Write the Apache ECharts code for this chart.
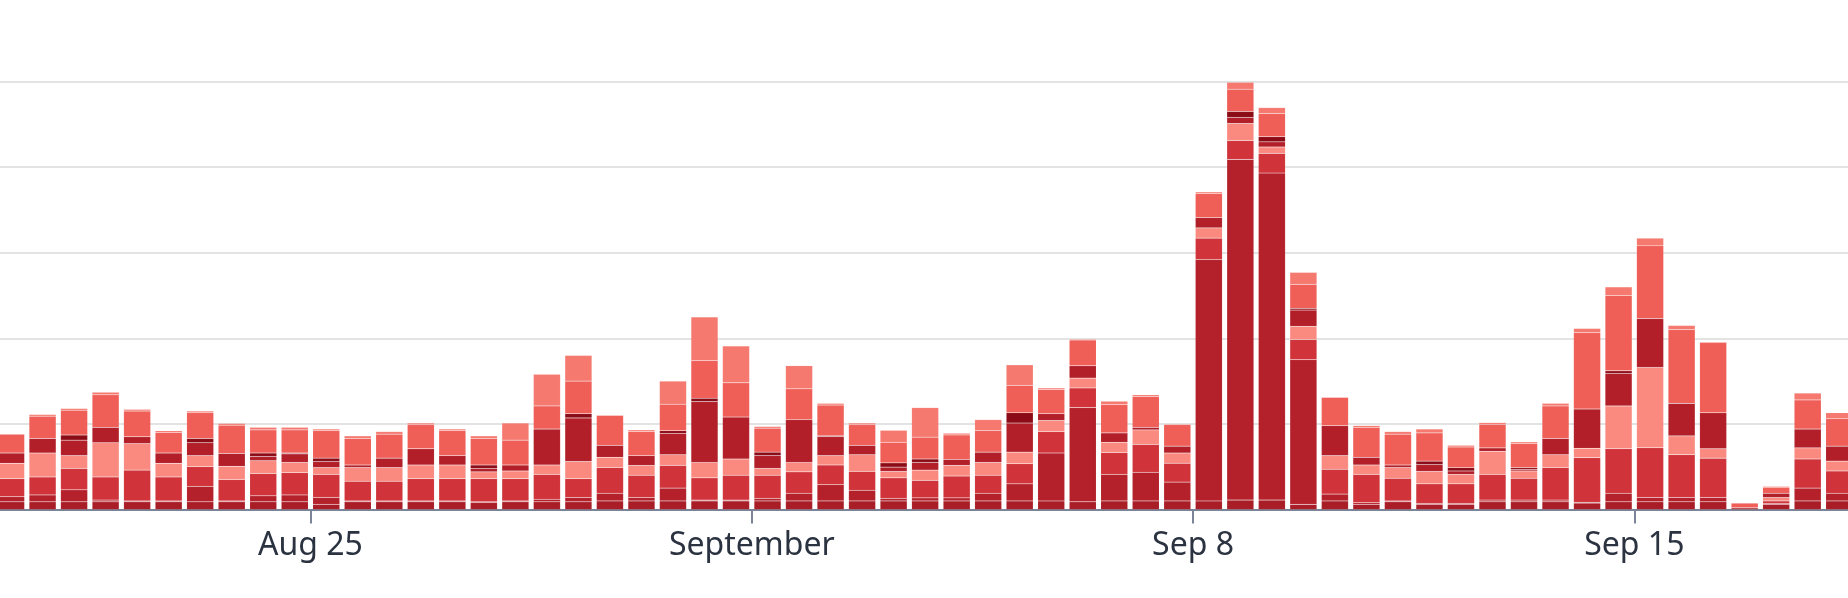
<!DOCTYPE html>
<html>
<head>
<meta charset="utf-8">
<script src="https://cdn.jsdelivr.net/npm/echarts@6/dist/echarts.min.js"></script>
<style>
html,body{margin:0;padding:0;background:#fff;}
#chart{width:1848px;height:598px;}
</style>
</head>
<body>
<div id="chart"></div>
<script>
// 12-hour bins (MM-DD HH), Aug 20 00:00 .. Sep 18 00:00
const bins = ["08-20 00","08-20 12","08-21 00","08-21 12","08-22 00","08-22 12","08-23 00","08-23 12",
"08-24 00","08-24 12","08-25 00","08-25 12","08-26 00","08-26 12","08-27 00","08-27 12",
"08-28 00","08-28 12","08-29 00","08-29 12","08-30 00","08-30 12","08-31 00","08-31 12",
"09-01 00","09-01 12","09-02 00","09-02 12","09-03 00","09-03 12","09-04 00","09-04 12",
"09-05 00","09-05 12","09-06 00","09-06 12","09-07 00","09-07 12","09-08 00","09-08 12",
"09-09 00","09-09 12","09-10 00","09-10 12","09-11 00","09-11 12","09-12 00","09-12 12",
"09-13 00","09-13 12","09-14 00","09-14 12","09-15 00","09-15 12","09-16 00","09-16 12",
"09-17 00","09-17 12","09-18 00"];

// stacked series, bottom to top
const s1 = [0.9,0.9,0.9,0.9,0.9,0.9,0.9,0.9,0.9,0.9,0.6,0.9,0.9,0.9,0.9,0.8,0.9,0.9,0.9,1.0,1.0,1.0,1.0,1.0,1.0,1.0,1.0,1.0,1.0,1.0,1.0,1.0,1.0,1.0,0.9,1.0,1.0,1.0,1.0,1.1,1.1,0.6,1.0,0.6,0.9,0.6,0.6,0.9,0.9,0.9,0.75,0.9,0.9,0.9,0.9,0.2,0.6,1.0,1.0];
const s2 = [0.6,0.8,1.4,0.2,0.1,0.1,1.8,0.1,0.7,0.8,0.8,0.1,0.1,0.1,0.1,0.1,0.1,0.3,0.5,0.9,0.4,1.5,0.1,0.1,0.3,0.9,1.9,1.25,0.3,0.36,0.36,0.9,2.0,5.6,11.0,3.1,3.35,2.2,28.2,39.8,38.2,16.9,0.8,0.2,0.1,0.1,0.1,0.2,0.2,0.2,0.1,1.0,0.5,0.5,0.5,0,0.1,1.5,0.9];
const s3 = [2.1,2.1,2.5,2.7,3.6,2.8,2.3,2.5,2.6,2.6,2.7,2.3,2.3,2.6,2.6,2.7,2.6,2.9,2.2,3.0,2.6,2.65,2.6,2.9,2.7,2.5,2.3,2.2,2.4,2.04,2.55,2.1,2.35,2.5,2.3,2.55,3.25,2.2,2.5,2.2,2.3,2.35,2.9,3.3,2.65,2.3,2.3,3.0,2.55,3.8,5.2,5.2,5.8,5.0,4.6,0,0.3,3.4,2.6];
const s4 = [1.8,2.8,1.5,4.0,3.1,1.6,1.3,1.55,1.5,1.2,0.8,1.6,1.6,1.6,1.6,0.8,0.9,1.1,2.0,1.2,1.15,1.25,1.8,1.9,0.8,1.1,1.1,1.95,0.75,1.2,1.25,1.5,1.35,1.3,1.15,1.2,1.7,1.2,1.2,2.0,0.75,1.55,1.6,1.1,1.25,1.45,1.1,2.7,0.85,1.5,1.1,5.0,9.4,2.2,1.1,0,0.4,1.3,1.15];
const s5 = [1.2,1.7,1.8,1.8,0.8,1.2,1.5,1.5,0.5,1.0,0.7,0.3,1.1,1.9,1.1,0.4,0.7,4.2,5.1,1.4,1.15,2.5,7.1,4.9,1.5,5.0,2.2,1.1,0.5,0.9,0.7,1.2,3.4,0.8,1.45,1.1,0.3,0.8,1.2,0.7,0.6,1.9,3.5,0.9,0.3,0.8,0.4,0.4,0.2,1.9,4.6,3.8,5.7,3.8,4.2,0,0.5,2.2,1.75];
const s6 = [0,0,0.6,0,0,0,0.5,0,0.4,0.1,0.4,0,0,0,0,0.4,0,0,0.5,0,0,0.3,0.4,0,0.4,0,0.1,0,0.5,0.4,0,0,1.2,0,0,0,0,0,0,0.7,0.6,0.2,0,0,0,0.4,0.4,0,0.2,0,0,0.3,0,0,0,0,0,0,0];
const s7 = [2.2,2.6,2.9,3.8,3.0,2.4,3.0,3.3,2.7,2.7,3.2,3.1,2.8,2.8,2.9,3.1,2.9,2.7,3.8,3.5,2.8,3.1,4.4,4.0,2.8,3.6,3.6,2.4,2.4,2.55,2.85,2.5,3.2,2.8,3.0,3.3,3.6,2.5,2.8,2.6,2.7,2.8,3.3,3.5,3.6,3.3,2.4,2.75,2.8,3.8,8.9,8.8,8.5,8.6,8.2,0.55,0.7,3.4,3.2];
const s8 = [0,0.2,0.2,0.3,0.2,0.2,0.2,0.2,0.3,0.3,0.2,0.3,0.3,0.2,0.2,0.3,2.0,3.7,3.0,0,0.2,2.7,5.1,4.3,0.2,2.7,0.2,0.2,1.4,3.45,0.2,1.3,2.4,0.2,0.1,0.4,0.2,0.1,0.2,0.8,0.7,1.4,0,0.2,0.3,0.45,0.2,0.2,0.2,0.3,0.5,1.0,0.9,0.5,0.1,0,0.1,0.8,0.7];

const seriesData = [s1,s2,s3,s4,s5,s6,s7,s8];
const seriesColors = ['#a91d27','#b4212b','#d0343a','#fa8a80','#b21f29','#8b0c17','#ef5e57','#f5796f'];

// x-axis ticks, counted in 12-hour bins from Aug 18 00:00
const tickValues = [0,14,28,42,56,70];
const tickNames  = ['Aug 18','Aug 25','September','Sep 8','Sep 15','Sep 22'];

const origin = Date.UTC(2024,7,18,0);
const slotCount = 70;
function binIndex(s){
  const m = parseInt(s.slice(0,2),10), d = parseInt(s.slice(3,5),10), h = parseInt(s.slice(6,8),10);
  return Math.round((Date.UTC(2024,m-1,d,h) - origin)/43200000);
}
// category slots for the whole axis range (12-hour slots)
const slots = [];
for (let i=0;i<slotCount;i++){
  const t = new Date(origin + i*43200000);
  slots.push((t.getUTCMonth()+1)+'-'+t.getUTCDate()+' '+(t.getUTCHours()?'12':'00'));
}
const idx = bins.map(binIndex);
function slotData(arr){
  const out = new Array(slotCount).fill(null);
  arr.forEach(function(v,i){ out[idx[i]] = v; });
  return out;
}

const chart = echarts.init(document.getElementById('chart'), null, {renderer:'canvas'});
const pxPerBin = 31.52;
const gridLeft = 310.5 - 14*pxPerBin;
const gridWidth = slotCount*pxPerBin;

chart.setOption({
  animation:false,
  backgroundColor:'#ffffff',
  grid:{left:gridLeft, top:81.5, width:gridWidth, bottom:88.5, containLabel:false, outerBoundsMode:'none'},
  xAxis:[{
    type:'category', data:slots, boundaryGap:true,
    axisLine:{show:false}, axisTick:{show:false}, axisLabel:{show:false}, splitLine:{show:false}
  },{
    type:'value', min:0, max:slotCount, interval:14, position:'bottom',
    axisLine:{show:true, onZero:false, lineStyle:{color:'#7c8497', width:2}},
    axisTick:{show:true, length:14, lineStyle:{color:'#7c8497', width:2}},
    splitLine:{show:false},
    axisLabel:{
      margin:20, color:'#2b3240', fontFamily:'Noto Sans', fontSize:32,
      formatter:function(v){ const k = tickValues.indexOf(Math.round(v)); return k>=0 ? tickNames[k] : ''; }
    }
  }],
  yAxis:{
    type:'value', min:0, max:50, interval:10,
    axisLine:{show:false}, axisTick:{show:false}, axisLabel:{show:false},
    splitLine:{show:true, lineStyle:{color:'#e3e3e3', width:2}}
  },
  series: seriesData.map(function(arr, k){
    return {
      type:'bar', stack:'total', barWidth:27, xAxisIndex:0,
      itemStyle:{color:seriesColors[k], borderColor:'rgba(255,255,255,0.14)', borderWidth:0.5},
      data: slotData(arr)
    };
  })
});
</script>
</body>
</html>
